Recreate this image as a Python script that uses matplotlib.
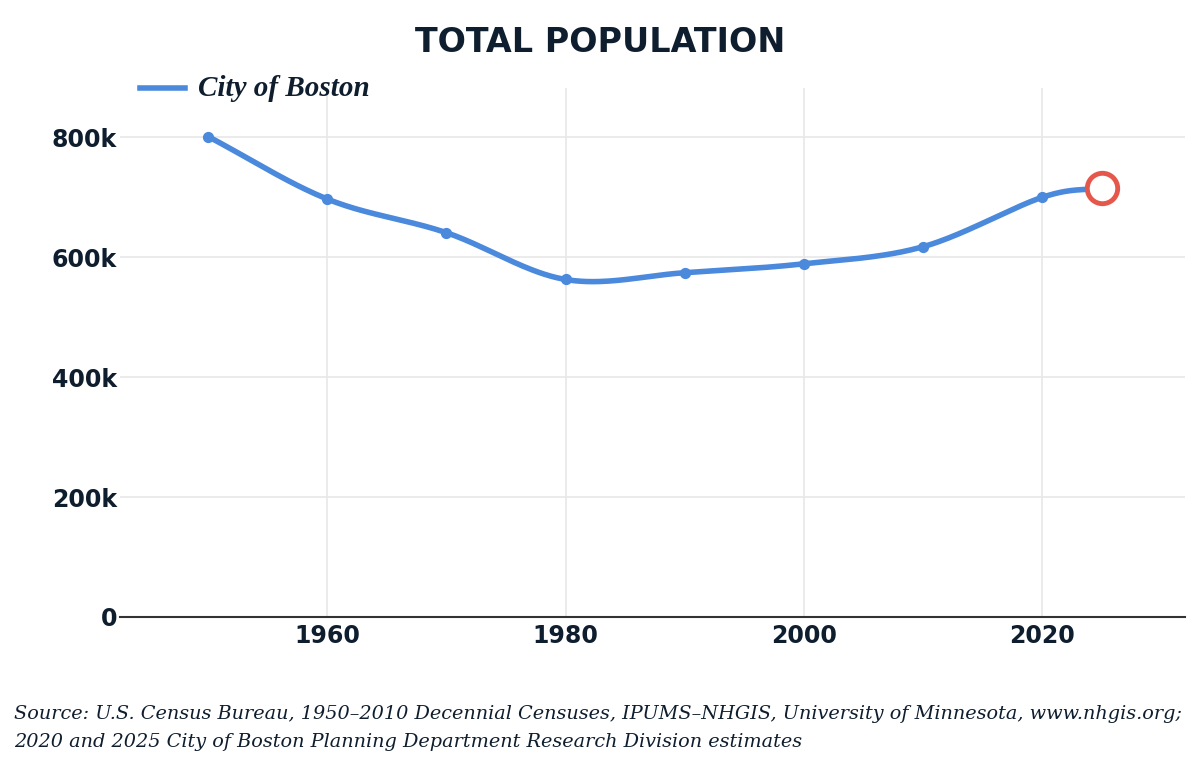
import numpy as np
import matplotlib
matplotlib.use("Agg")
import matplotlib.pyplot as plt
from matplotlib.ticker import FuncFormatter

# data
years = [1950, 1960, 1970, 1980, 1990, 2000, 2010, 2020]
population = [801444, 697197, 641071, 562994, 574283, 589141, 617594, 700000]
est_year = 2025
est_population = 716000

title = "TOTAL POPULATION"
series_name = "City of Boston"
source_text = ("Source: U.S. Census Bureau, 1950\u20132010 Decennial Censuses, IPUMS\u2013NHGIS, "
               "University of Minnesota, www.nhgis.org;\n"
               "2020 and 2025 City of Boston Planning Department Research Division estimates")

LINE = "#4a89dc"
RED = "#e4574a"
INK = "#0f1e2e"
GRID = "#e8e8e8"


def catmull_rom(xs, ys, n=40):
    # smooth curve through the given points (drawing only)
    px = np.concatenate([[2 * xs[0] - xs[1]], xs, [2 * xs[-1] - xs[-2]]])
    py = np.concatenate([[2 * ys[0] - ys[1]], ys, [2 * ys[-1] - ys[-2]]])
    out_x, out_y = [], []
    t = np.linspace(0, 1, n)
    for i in range(1, len(px) - 2):
        for arr, res in ((px, out_x), (py, out_y)):
            p0, p1, p2, p3 = arr[i - 1], arr[i], arr[i + 1], arr[i + 2]
            res.extend(0.5 * ((2 * p1) + (-p0 + p2) * t
                              + (2 * p0 - 5 * p1 + 4 * p2 - p3) * t ** 2
                              + (-p0 + 3 * p1 - 3 * p2 + p3) * t ** 3))
    return np.array(out_x), np.array(out_y)


all_x = np.array(years + [est_year], dtype=float)
all_y = np.array(population + [est_population], dtype=float)
cx, cy = catmull_rom(all_x, all_y)

fig = plt.figure(figsize=(12, 7.81), dpi=100)
ax = fig.add_axes([0.1, 0.21, 0.8875, 0.677])

ax.plot(cx, cy, color=LINE, lw=4, solid_capstyle="round", zorder=3)
ax.scatter(years, population, s=50, color=LINE, zorder=4)
ax.scatter([est_year], [est_population], s=480, facecolor="white",
           edgecolor=RED, linewidth=3.5, zorder=5)

ax.set_xlim(1942.6, 2032)
ax.set_ylim(0, 882000)
ax.set_xticks([1960, 1980, 2000, 2020])
ax.set_yticks([0, 200000, 400000, 600000, 800000])
ax.yaxis.set_major_formatter(FuncFormatter(lambda v, p: "0" if v == 0 else f"{int(v/1000)}k"))

ax.grid(True, color=GRID, lw=1.2, zorder=0)
for s in ["top", "right", "left"]:
    ax.spines[s].set_visible(False)
ax.spines["bottom"].set_color("#333333")
ax.spines["bottom"].set_linewidth(1.5)
ax.tick_params(axis="both", length=0, labelcolor=INK, labelsize=17)
ax.tick_params(axis="x", pad=5)
ax.tick_params(axis="y", pad=2)
for lab in ax.get_xticklabels() + ax.get_yticklabels():
    lab.set_fontweight("bold")
    lab.set_family("DejaVu Sans")

fig.text(0.5, 0.946, title, ha="center", va="center", fontsize=24,
         fontweight="bold", color=INK, family="DejaVu Sans")

# legend
fig.lines.append(plt.Line2D([140 / 1200, 185 / 1200], [1 - 88 / 781] * 2,
                            transform=fig.transFigure, color=LINE, lw=4))
fig.text(198 / 1200, 1 - 88 / 781, series_name, ha="left", va="center",
         fontsize=21, style="italic", fontweight="bold", color=INK,
         family="Liberation Serif")

fig.text(14 / 1200, 1 - 728 / 781, source_text, ha="left", va="center",
         fontsize=13.9, style="italic", color=INK, family="DejaVu Serif", linespacing=1.65)

fig.savefig("out.png", dpi=100, facecolor="white")
